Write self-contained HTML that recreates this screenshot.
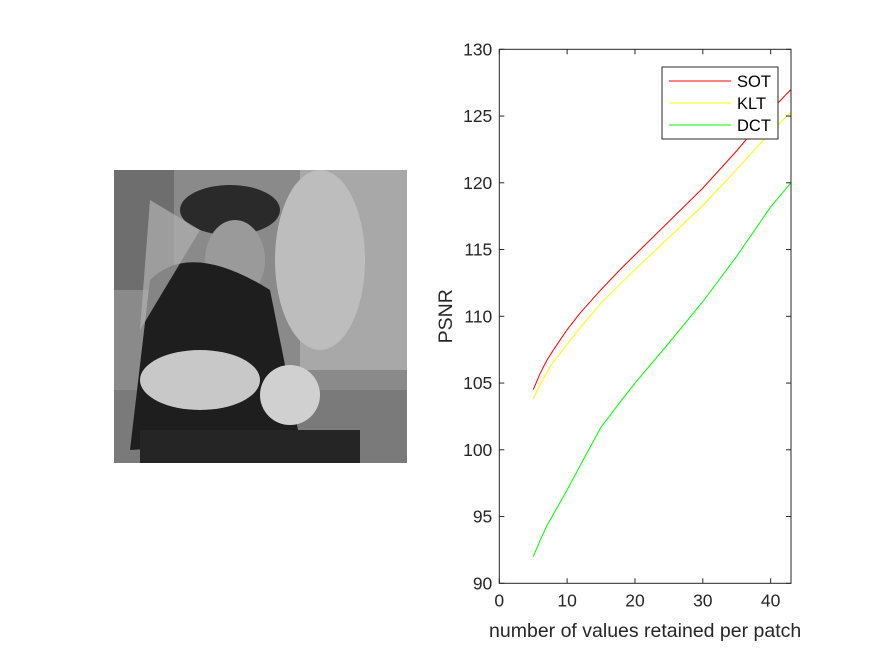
<!DOCTYPE html>
<html><head><meta charset="utf-8"><style>
body{margin:0;background:#fff;width:875px;height:656px;overflow:hidden}
svg{display:block;font-family:"Liberation Sans",Arial,sans-serif}
</style></head><body>
<svg id="fig" width="875" height="656" viewBox="0 0 875 656">
<rect width="875" height="656" fill="#fff"/>
<g>
  <rect x="114" y="170" width="293" height="293" fill="#8a8a8a"/>
  <rect x="114" y="170" width="60" height="120" fill="#6e6e6e"/>
  <rect x="300" y="170" width="107" height="200" fill="#a8a8a8"/>
  <ellipse cx="320" cy="260" rx="45" ry="90" fill="#bdbdbd"/>
  <rect x="114" y="390" width="293" height="73" fill="#7a7a7a"/>
  <ellipse cx="230" cy="210" rx="50" ry="25" fill="#2a2a2a"/>
  <ellipse cx="235" cy="260" rx="30" ry="40" fill="#9a9a9a"/>
  <path d="M150 280 Q190 240 270 290 L300 440 L130 450 Z" fill="#1e1e1e"/>
  <ellipse cx="200" cy="380" rx="60" ry="30" fill="#c8c8c8"/>
  <ellipse cx="290" cy="395" rx="30" ry="30" fill="#d0d0d0"/>
  <path d="M150 200 L200 230 L140 330 Z" fill="#b0b0b0" opacity="0.7"/>
  <rect x="140" y="430" width="220" height="33" fill="#252525"/>
</g>
<g id="axes"></g>
</svg>
<script>
const xTicks=[0,10,20,30,40];
const yTicks=[90,95,100,105,110,115,120,125,130];
const xs=[5,6,7,8,10,12,15,18,20,25,30,35,40,43];
const sot=[104.5,105.7,106.7,107.5,109,110.3,112,113.6,114.6,117.1,119.6,122.4,125.4,127];
const klt=[103.8,104.9,105.8,106.6,107.9,109.2,111,112.5,113.5,115.9,118.3,121,123.8,125.3];
const dct=[92,93.2,94.3,95.2,97,98.9,101.7,103.7,105,108,111.1,114.5,118.2,120];
const series=[{name:'SOT',color:'#ff0000',vals:sot},{name:'KLT',color:'#ffff00',vals:klt},{name:'DCT',color:'#00ff00',vals:dct}];
const L=499.3,R=791,T=49.3,B=583.3,X0=0,X1=43,Y0=90,Y1=130;
const sx=v=>L+(v-X0)/(X1-X0)*(R-L);
const sy=v=>B-(v-Y0)/(Y1-Y0)*(B-T);
const NS='http://www.w3.org/2000/svg';
const g=document.getElementById('axes');
function mk(t,a,p){const e=document.createElementNS(NS,t);for(const k in a)e.setAttribute(k,a[k]);(p||g).appendChild(e);return e;}
series.forEach(s=>{
  const p=mk('polyline',{points:xs.map((x,i)=>sx(x)+','+sy(s.vals[i])).join(' '),fill:'none',stroke:s.color,'stroke-width':1,'stroke-linejoin':'round'});
  
  
});
const box=mk('rect',{x:L,y:T,width:R-L,height:B-T,fill:'none',stroke:'#262626','stroke-width':1});


xTicks.forEach(v=>{
  const x=sx(v);
  mk('line',{x1:x,y1:B,x2:x,y2:B-5,stroke:'#262626'});
  mk('line',{x1:x,y1:T,x2:x,y2:T+5,stroke:'#262626'});
  const t=mk('text',{x:x,y:B+23,'text-anchor':'middle','font-size':17.5,fill:'#262626'});
  t.textContent=v;
  
  
});
yTicks.forEach(v=>{
  const y=sy(v);
  mk('line',{x1:L,y1:y,x2:L+5,y2:y,stroke:'#262626'});
  mk('line',{x1:R,y1:y,x2:R-5,y2:y,stroke:'#262626'});
  const t=mk('text',{x:L-7,y:y+6,'text-anchor':'end','font-size':17.5,fill:'#262626'});
  t.textContent=v;
  
  
});
const xl=mk('text',{x:(L+R)/2,y:637,'text-anchor':'middle','font-size':19.5,fill:'#262626'});
xl.textContent='number of values retained per patch';


const yl=mk('text',{x:0,y:0,'text-anchor':'middle','font-size':19.5,fill:'#262626',transform:`translate(452,${(T+B)/2}) rotate(-90)`});
yl.textContent='PSNR';


const lg=mk('g',{});


mk('rect',{x:662,y:67,width:116,height:72,fill:'#fff',stroke:'#262626'},lg);
series.forEach((s,i)=>{
  const y=81+i*22;
  mk('line',{x1:669,y1:y,x2:731,y2:y,stroke:s.color},lg);
  const t=mk('text',{x:737,y:y+6,'font-size':16.5,fill:'#000'},lg);
  t.textContent=s.name;
  
  
});
</script>
</body></html>
